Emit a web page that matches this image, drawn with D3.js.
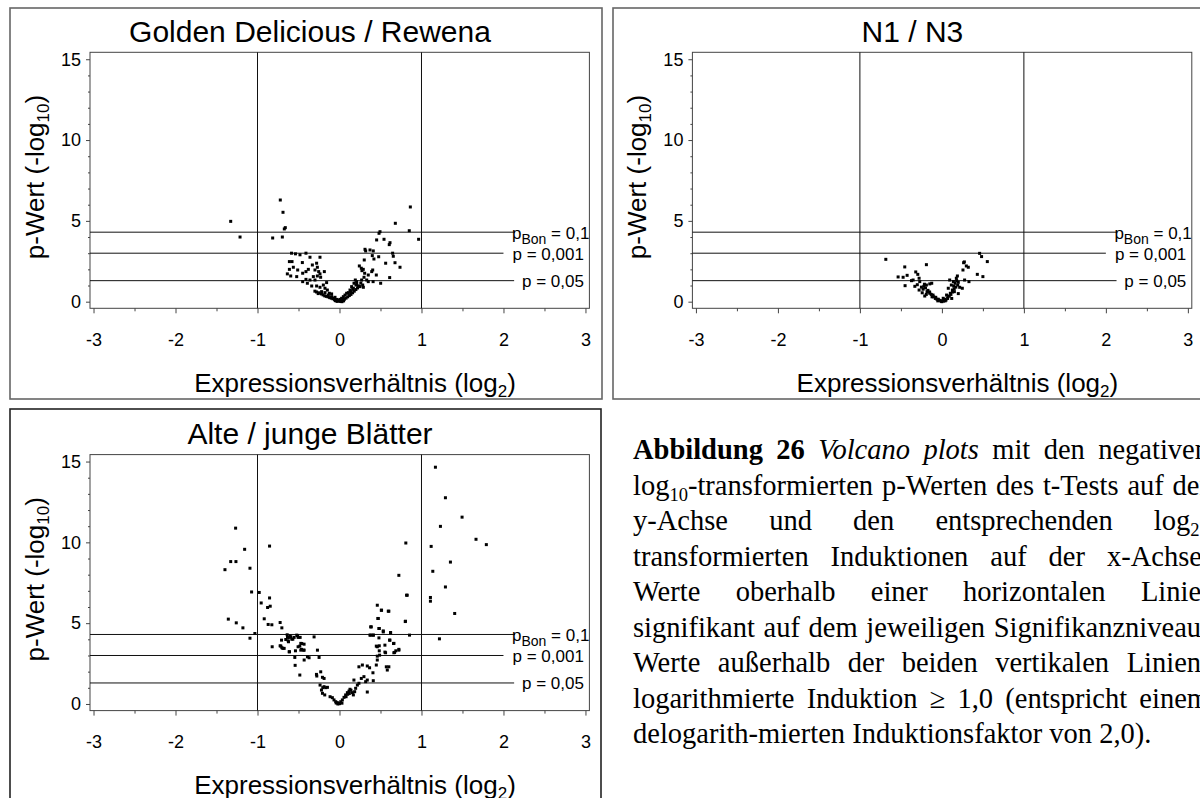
<!DOCTYPE html>
<html>
<head>
<meta charset="utf-8">
<script src="https://cdn.jsdelivr.net/npm/d3@7"></script>
<style>
  body { margin: 0; background: #fff; }
  svg { display: block; }
</style>
</head>
<body>
<svg id="fig" width="1200" height="798"></svg>
<script>
// ---- axis ticks and reference levels ----
const xTickValues = [-3, -2, -1, 0, 1, 2, 3];
const xMinorTicks = [-2.5, -1.5, -0.5, 0.5, 1.5, 2.5];
const yTickValues = [0, 5, 10, 15];
const yMinorTicks = [1, 2, 3, 4, 6, 7, 8, 9, 11, 12, 13, 14];
const foldLines = [-1, 1];
const cutoffValues = [4.3, 3, 1.3];
const cutoffLineEnds = [2.14, 2.0, 2.13];
const cutoffLabels = [
  [{ t: "p" }, { t: "Bon", sub: true }, { t: " = 0,1" }],
  [{ t: "p = 0,001" }],
  [{ t: "p = 0,05" }]
];
const panelTitles = ["Golden Delicious / Rewena", "N1 / N3", "Alte / junge Blätter"];

// ---- volcano data: [log2 ratio, -log10 p] ----
const goldenRewena = [
  [-1.327,4.97],[-1.213,4.0],[-0.722,6.29],[-0.689,5.53],[-0.673,4.5],[-0.661,4.58],[-0.815,3.94],[-0.697,4.0],
  [0.864,5.86],[0.681,4.85],[0.851,4.39],[0.965,3.86],[0.494,4.33],[0.482,4.23],[0.453,3.82],[0.543,3.86],
  [0.616,3.65],[0.607,3.53],[0.311,3.24],[0.319,3.14],[0.372,3.2],[0.412,3.14],[0.4,2.85],[0.42,2.64],
  [0.478,2.78],[0.302,2.58],[0.648,3.0],[0.656,2.81],[0.563,2.38],[0.677,2.41],[0.738,2.13],[0.612,1.49],
  [0.502,1.14],[0.449,1.65],[0.393,1.86],[0.405,1.96],[0.351,1.65],[0.29,2.0],[0.274,1.92],[0.266,2.07],
  [0.307,1.76],[0.299,1.51],[0.27,1.34],[0.242,2.21],[0.332,1.34],[0.351,1.24],[0.41,1.24],
  [-0.585,3.0],[-0.537,2.96],[-0.482,2.9],[-0.409,3.0],[-0.36,2.75],[-0.238,2.75],[-0.611,2.48],[-0.579,2.48],
  [-0.453,2.42],[-0.331,2.27],[-0.279,2.38],[-0.611,2.0],[-0.563,2.13],[-0.51,1.96],[-0.636,1.72],[-0.595,1.59],
  [-0.522,1.55],[-0.449,1.76],[-0.409,1.86],[-0.38,2.0],[-0.299,1.96],[-0.27,2.13],[-0.254,1.86],[-0.185,1.86],
  [-0.319,1.55],[-0.27,1.59],[-0.238,1.72],[-0.409,1.38],[-0.36,1.34],[-0.299,1.34],[-0.23,1.51],[-0.157,1.18],
  [-0.449,1.24],[-0.392,1.14],[-0.339,0.97],[-0.279,0.97],[-0.238,0.89],[-0.197,1.03],[-0.177,0.83],[-0.148,0.72],
  [-0.218,0.62],[-0.177,0.56],[-0.136,0.41],[-0.096,0.31],[-0.075,0.21],[-0.035,0.14],[-0.014,0.1],[-0.124,0.52],
  [-0.096,0.48],[-0.055,0.27],
  [0.193,1.34],[0.209,1.24],[0.177,1.14],[0.23,0.97],[0.25,0.93],[0.283,1.03],[0.291,0.89],[0.148,0.93],
  [0.169,0.83],[0.128,0.72],[0.108,0.56],[0.087,0.52],[0.067,0.41],[0.047,0.31],[0.026,0.21],[0.006,0.14],
  [0.136,0.62],[0.161,0.76],[0.201,1.03],[0.0,0.05],[0.01,0.02],[-0.02,0.05],
  [-0.25,0.55],[-0.22,0.48],[-0.2,0.42],[-0.18,0.36],[-0.16,0.33],[-0.14,0.3],[-0.12,0.25],[-0.1,0.22],
  [-0.08,0.18],[-0.06,0.12],[-0.04,0.08],[0.02,0.04],[0.04,0.1],[0.06,0.15],[0.08,0.22],[0.1,0.3],
  [0.12,0.38],[0.14,0.45],[0.16,0.55],[0.18,0.65],[0.2,0.75],[0.22,0.85],[0.24,0.95],[-0.3,0.65],
  [-0.28,0.6],[-0.26,0.5],[0.03,0.0],[-0.03,0.02],[0.05,0.05],[-0.05,0.06],[0.21,1.1],[0.26,1.15]
];

const n1n3 = [
  [-0.684,2.62],[-0.453,2.15],[-0.189,2.29],[-0.534,1.53],[-0.473,1.51],[-0.424,1.63],[-0.449,0.99],[-0.371,1.3],
  [-0.319,1.84],[-0.294,1.69],[-0.278,1.45],[-0.351,1.34],[-0.27,1.24],[-0.213,1.08],[-0.189,1.03],[-0.148,1.1],
  [-0.124,1.14],[-0.278,0.72],[-0.23,0.77],[-0.181,0.62],[-0.209,0.35],[-0.148,0.52],[-0.108,0.41],[-0.075,0.27],
  [-0.043,0.15],[0.0,0.06],[0.034,0.15],[0.074,0.31],[0.103,0.52],[0.128,0.72],[0.144,0.97],[0.16,1.14],
  [0.176,1.45],[0.189,1.59],[0.217,0.89],[0.249,0.83],[0.265,2.41],[0.274,2.46],[0.298,2.21],[0.322,2.13],
  [0.257,1.96],[0.277,1.34],[0.33,1.24],[0.432,1.69],[0.5,1.55],[0.46,2.99],[0.484,2.79],[0.554,2.48],
  [0.095,1.34],[0.115,1.03],[0.078,0.83],[0.016,0.21],[0.057,0.41],[0.152,0.62],[0.193,1.03],
  [-0.25,0.9],[-0.22,0.95],[-0.2,0.85],[-0.17,0.7],[-0.15,0.6],[-0.13,0.45],[-0.1,0.3],[-0.08,0.2],
  [-0.06,0.15],[-0.03,0.08],[-0.01,0.02],[0.02,0.04],[0.05,0.1],[0.07,0.2],[0.09,0.35],[0.11,0.45],
  [0.13,0.6],[0.15,0.8],[0.17,0.9],[0.2,1.2],[0.18,1.3],[0.14,1.25],[-0.3,1.05],[-0.33,0.95],
  [-0.24,0.55],[-0.19,0.45],[-0.12,0.3],[0.0,0.0],[0.04,0.05],[-0.05,0.05],[0.12,0.2],[0.2,0.5]
];

const alteJunge = [
  [1.17,14.65],[1.292,12.76],[1.495,11.56],[1.231,10.99],[1.665,10.19],[1.791,9.86],[1.118,9.75],[1.353,8.78],
  [1.138,8.21],[1.292,7.24],[1.109,6.59],[1.109,6.36],[1.405,5.6],[1.219,4.03],[0.809,9.96],[0.724,7.96],
  [0.826,6.73],[0.805,5.12],[0.854,4.26],[0.461,6.11],[0.51,5.8],[0.602,5.74],[0.473,5.29],[0.38,4.77],
  [0.481,4.67],[0.534,4.52],[0.623,4.42],[0.371,4.26],[0.412,4.26],[0.615,3.95],[0.664,3.75],[0.724,3.38],
  [0.672,3.19],[0.562,3.17],[0.461,3.54],[0.485,3.29],
  [-1.267,10.88],[-1.157,9.57],[-0.853,9.77],[-1.327,8.81],[-1.263,8.81],[-1.397,8.31],[-1.092,8.4],[-1.072,6.93],
  [-0.979,6.9],[-0.955,6.25],[-0.853,6.56],[-0.877,5.97],[-0.845,6.05],[-0.918,5.27],[-0.87,4.92],[-0.825,4.9],
  [-0.724,5.04],[-0.703,4.71],[-1.356,5.25],[-1.259,5.02],[-1.178,4.71],[-1.032,4.36],[-1.092,4.07],[-0.821,3.54],
  [-0.724,3.6],[-0.703,3.48],[-0.675,3.44],[-0.634,4.12],[-0.594,4.15],[-0.512,4.22],[-0.48,4.12],[-0.655,3.99],
  [-0.622,3.85],[-0.569,4.01],[-0.31,4.15],[-0.472,3.75],[-0.432,3.7],[-0.505,3.54],[-0.464,3.38],[-0.44,3.33],
  [-0.614,3.23],[-0.269,3.33],
  [-0.715,3.58],[-0.691,3.44],[-0.707,3.95],[-0.626,3.91],[-0.614,4.12],[-0.582,4.01],[-0.638,4.28],[-0.602,4.2],
  [-0.553,4.12],[-0.521,4.26],[-0.504,4.12],[-0.484,3.58],[-0.46,3.74],[-0.472,3.33],[-0.431,3.33],[-0.537,3.29],
  [-0.61,3.23],[-0.545,2.88],[-0.391,2.92],[-0.371,2.86],[-0.431,2.72],[-0.249,2.88],[-0.541,2.39],
  [-0.484,1.79],[-0.281,1.83],[-0.229,1.99],[-0.277,1.73],[-0.208,1.65],[-0.188,1.58],[-0.237,1.17],[-0.204,1.01],
  [-0.168,1.01],[-0.147,1.03],[-0.22,0.86],[-0.208,0.66],[-0.18,0.56],[-0.188,1.07],[-0.115,0.45],[-0.087,0.39],
  [-0.067,0.25],[-0.046,0.14],[-0.026,0.08],[-0.006,0.04],[0.015,0.14],[0.035,0.25],[0.055,0.41],[0.075,0.56],
  [0.096,0.7],[0.116,0.8],[0.128,0.91],[0.157,0.7],[0.169,0.56],[0.185,0.76],[0.197,0.97],[0.176,1.48],
  [0.218,1.17],[0.237,1.28],[0.266,1.58],[0.298,1.69],[0.319,1.38],[0.339,1.48],[0.339,0.74],[0.412,1.44],
  [0.367,2.24],[0.339,2.35],[0.279,2.41],[0.237,2.3],[0.408,1.93],[0.449,2.41],[0.461,2.72],[0.461,2.96],
  [0.489,3.02],[0.554,3.21],[0.571,2.3],[0.583,2.1],[0.602,2.3],[0.663,3.17],[0.687,3.29],[0.724,3.33],
  [0.659,3.74],[0.611,3.95],[0.554,3.64],[0.485,3.6],[0.449,3.58],[0.481,4.09],[0.485,4.67],[0.534,4.46],
  [0.623,4.4],[0.38,4.26],[0.412,4.26],[0.388,4.77],[0.513,5.8],[0.595,5.74],[0.468,5.29],[0.802,5.1],
  [0.818,6.73],[-0.02,0.0],[0.0,0.02],[0.03,0.05],[-0.04,0.06],[0.1,0.6],[0.12,0.65],[0.14,0.85],[0.08,0.45]
];

const panelData = [goldenRewena, n1n3, alteJunge];

// ---- figure caption (word runs; last line is set ragged) ----
const captionLines = [
  [[{ t: "Abbildung", b: true }], [{ t: "26", b: true }], [{ t: "Volcano", i: true }], [{ t: "plots", i: true }],
   [{ t: "mit" }], [{ t: "den" }], [{ t: "negativen" }]],
  [[{ t: "log" }, { t: "10", sub: true }, { t: "-transformierten" }], [{ t: "p-Werten" }], [{ t: "des" }],
   [{ t: "t-Tests" }], [{ t: "auf" }], [{ t: "der" }]],
  [[{ t: "y-Achse" }], [{ t: "und" }], [{ t: "den" }], [{ t: "entsprechenden" }],
   [{ t: "log" }, { t: "2", sub: true }, { t: "-" }]],
  [[{ t: "transformierten" }], [{ t: "Induktionen" }], [{ t: "auf" }], [{ t: "der" }], [{ t: "x-Achse." }]],
  [[{ t: "Werte" }], [{ t: "oberhalb" }], [{ t: "einer" }], [{ t: "horizontalen" }], [{ t: "Linie:" }]],
  [[{ t: "signifikant" }], [{ t: "auf" }], [{ t: "dem" }], [{ t: "jeweiligen" }], [{ t: "Signifikanzniveau;" }]],
  [[{ t: "Werte" }], [{ t: "außerhalb" }], [{ t: "der" }], [{ t: "beiden" }], [{ t: "vertikalen" }], [{ t: "Linien:" }]],
  [[{ t: "logarithmierte" }], [{ t: "Induktion" }], [{ t: "≥" }], [{ t: "1,0" }], [{ t: "(entspricht" }], [{ t: "einem" }]],
  [[{ t: "delogarith-mierten" }], [{ t: "Induktionsfaktor" }], [{ t: "von" }], [{ t: "2,0)." }]]
];

// ---- layout ----
const sans = "'Liberation Sans', Arial, Helvetica, sans-serif";
const serif = "'Liberation Serif', 'Times New Roman', Times, serif";
const svg = d3.select("#fig");

const panels = [
  { dx: 0,     dy: 0,     frame: [10, 8, 592, 391],  frameColor: "#666" },
  { dx: 602.4, dy: 0,     frame: [613, 8, 600, 391], frameColor: "#666" },
  { dx: 0,     dy: 402.3, frame: [10, 409, 591, 400], frameColor: "#222" }
];
const plot = { left: 90, right: 589.4, top: 52.3, bottom: 308.3 };

function addRuns(sel, runs, subSize, subShift) {
  let prevSub = false;
  runs.forEach(r => {
    const ts = sel.append("tspan").text(r.t);
    if (r.b) ts.attr("font-weight", "bold");
    if (r.i) ts.attr("font-style", "italic");
    if (r.sub) ts.attr("font-size", subSize).attr("dy", subShift);
    else if (prevSub) ts.attr("dy", -subShift);
    prevSub = !!r.sub;
  });
}

panels.forEach((p, k) => {
  const [fx, fy, fw, fh] = p.frame;
  svg.append("rect").attr("x", fx).attr("y", fy).attr("width", fw).attr("height", fh)
    .attr("fill", "none").attr("stroke", p.frameColor).attr("stroke-width", 1.6);

  const g = svg.append("g").attr("transform", `translate(${p.dx},${p.dy})`);
  const x = d3.scaleLinear().domain([-3.043, 3.048]).range([plot.left, plot.right]);
  const y = d3.scaleLinear().domain([-0.41, 15.43]).range([plot.bottom, plot.top]);

  // plot box
  g.append("rect").attr("x", plot.left).attr("y", plot.top)
    .attr("width", plot.right - plot.left).attr("height", plot.bottom - plot.top)
    .attr("fill", "none").attr("stroke", "#444").attr("stroke-width", 1);

  // axes
  const styleAxis = a => {
    a.select(".domain").remove();
    a.selectAll("line").attr("stroke", "#444");
    a.selectAll("text").attr("font-family", sans).attr("font-size", 18).attr("fill", "#000");
  };
  g.append("g").attr("transform", `translate(0,${plot.bottom})`)
    .call(d3.axisBottom(x).tickValues(xTickValues).tickSize(5).tickPadding(20).tickFormat(d => String(d)))
    .call(styleAxis);
  g.append("g").attr("transform", `translate(0,${plot.bottom})`)
    .call(d3.axisBottom(x).tickValues(xMinorTicks).tickSize(3).tickFormat(""))
    .call(styleAxis);
  g.append("g").attr("transform", `translate(${plot.left},0)`)
    .call(d3.axisLeft(y).tickValues(yTickValues).tickSize(4).tickPadding(5).tickFormat(d => String(d)))
    .call(styleAxis);
  g.append("g").attr("transform", `translate(${plot.left},0)`)
    .call(d3.axisLeft(y).tickValues(yMinorTicks).tickSize(2).tickFormat(""))
    .call(styleAxis);

  // fold-change limits
  g.selectAll(".fold").data(foldLines).enter().append("line")
    .attr("x1", d => x(d)).attr("x2", d => x(d))
    .attr("y1", plot.top).attr("y2", plot.bottom)
    .attr("stroke", "#111").attr("stroke-width", 1);

  // significance levels
  cutoffValues.forEach((v, i) => {
    g.append("line").attr("x1", plot.left).attr("x2", x(cutoffLineEnds[i]))
      .attr("y1", y(v)).attr("y2", y(v)).attr("stroke", "#111").attr("stroke-width", 1);
    const t = g.append("text").attr("x", i === 0 ? plot.right : plot.right - 5.5)
      .attr("y", y(v) + 6.5).attr("text-anchor", "end")
      .attr("font-family", sans).attr("font-size", 17);
    addRuns(t, cutoffLabels[i], 14, 5);
  });

  // points
  g.selectAll(".pt").data(panelData[k]).enter().append("rect")
    .attr("x", d => x(d[0]) - 1.5).attr("y", d => y(d[1]) - 1.5)
    .attr("width", 3).attr("height", 3).attr("fill", "#000");

  // titles
  g.append("text").attr("x", 310).attr("y", 42).attr("text-anchor", "middle")
    .attr("font-family", sans).attr("font-size", 30).text(panelTitles[k]);

  const yt = g.append("text").attr("transform", "translate(44,177) rotate(-90)")
    .attr("text-anchor", "middle").attr("font-family", sans).attr("font-size", 26);
  addRuns(yt, [{ t: "p-Wert (-log" }, { t: "10", sub: true }, { t: ")" }], 17, 5);

  const xt = g.append("text").attr("x", 355).attr("y", 392).attr("text-anchor", "middle")
    .attr("font-family", sans).attr("font-size", 26);
  addRuns(xt, [{ t: "Expressionsverhältnis (log" }, { t: "2", sub: true }, { t: ")" }], 17, 5);
});

// ---- caption, justified ----
const cap = { x: 633, y: 459, lh: 35.5, right: 1209, size: 28.5 };
const capG = svg.append("g").attr("font-family", serif).attr("font-size", cap.size).attr("fill", "#000");
captionLines.forEach((words, li) => {
  const yy = cap.y + li * cap.lh;
  const nodes = words.map(runs => {
    const t = capG.append("text").attr("y", yy);
    addRuns(t, runs, cap.size * 0.65, 6);
    return t;
  });
  const widths = nodes.map(n => n.node().getComputedTextLength());
  const total = d3.sum(widths);
  const last = li === captionLines.length - 1;
  const gap = last ? cap.size * 0.25 : (cap.right - cap.x - total) / (words.length - 1);
  let cx = cap.x;
  nodes.forEach((n, i) => { n.attr("x", cx); cx += widths[i] + gap; });
});
</script>
</body>
</html>
